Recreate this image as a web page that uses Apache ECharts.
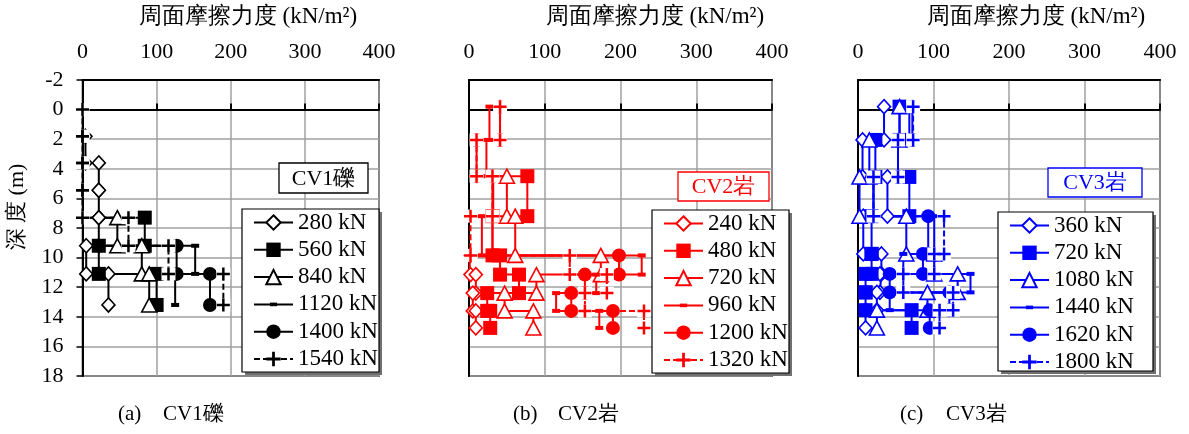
<!DOCTYPE html>
<html><head><meta charset="utf-8">
<script src="https://cdn.jsdelivr.net/npm/echarts@6/dist/echarts.min.js"></script>
<style>
html,body{margin:0;padding:0;background:#fff;width:1189px;height:434px;overflow:hidden}
.panel{position:absolute;top:0;height:434px}
</style></head><body>
<div id="p1" class="panel" style="left:0;width:400px"></div>
<div id="p2" class="panel" style="left:400px;width:400px"></div>
<div id="p3" class="panel" style="left:800px;width:389px"></div>
<script>
// x-axis ticks (kN/m2) and depth ticks (m)
const frictionTicks = [0, 100, 200, 300, 400];
const depthTicks = [-2, 0, 2, 4, 6, 8, 10, 12, 14, 16, 18];

// Segment boundaries (m) for each pile
const depthCV1 = [0, 1.8, 3.6, 5.45, 7.3, 9.2, 11.1, 13.2];
const depthCV2 = [-0.2, 2.05, 4.5, 7.2, 9.85, 11.15, 12.4, 13.6, 14.75];
const depthCV3 = [-0.2, 2.05, 4.55, 7.2, 9.75, 11.1, 12.35, 13.55, 14.75];

// CV1 (gravel): skin friction per segment for each load step
const cv1Loads = ['280 kN', '560 kN', '840 kN', '1120 kN', '1400 kN', '1540 kN'];
const cv1_280  = [0, 4, 22, 22, 22, 5, 35];
const cv1_560  = [0, 0, 0, 0, 84, 22, 100];
const cv1_840  = [0, 0, 0, 0, 47, 80, 90];
const cv1_1120 = [0, 0, 0, 0, 0, 152, 125];
const cv1_1400 = [0, 0, 0, 0, 0, 127, 172];
const cv1_1540 = [0, 0, 0, 0, 62, 116, 190];

// CV2 (rock)
const cv2Loads = ['240 kN', '480 kN', '720 kN', '960 kN', '1200 kN', '1320 kN'];
const cv2_240  = [0, 0, 0, 0, 2, 9, 5, 9];
const cv2_480  = [0, 0, 77, 31, 41, 66, 24, 28];
const cv2_720  = [0, 0, 50, 61, 174, 89, 47, 85];
const cv2_960  = [27, 23, 32, 17, 228, 168, 115, 172];
const cv2_1200 = [41, 10, 31, 31, 198, 153, 135, 190];
const cv2_1320 = [41, 10, 31, 2, 133, 182, 153, 231];

// CV3 (rock)
const cv3Loads = ['360 kN', '720 kN', '1080 kN', '1440 kN', '1620 kN', '1800 kN'];
const cv3_360  = [34.5, 6, 39, 7, 31, 29, 25, 10];
const cv3_720  = [55, 23, 68, 18, 18, 10, 10, 71];
const cv3_1080 = [55, 15, 2, 64, 101, 132, 92, 25];
const cv3_1440 = [68, 53, 20.5, 101, 60, 149, 42, null];
const cv3_1620 = [72, 53, 20.5, 93, 86, 42, 121, 95];
const cv3_1800 = [73, 53, 20.5, 114, 101, 60, 126, 108];

const SERIF = "Liberation Serif, DejaVu Serif, Noto Serif, serif";
const PLUS = 'path://M5.25,0h2.5v5.25h5.25v2.5h-5.25v5.25h-2.5v-5.25h-5.25v-2.5h5.25z';
// short bar centred in a padded box, so it stays small in the legend too
const DASH = 'path://M0,0M16,16M4,6h8v4h-8z';

// marker look for the six load steps, in legend order
const markers = [
  { symbol: 'diamond',  size: [13, 14], hollow: true },
  { symbol: 'rect',     size: 14,       hollow: false },
  { symbol: 'triangle', size: [15, 14], hollow: true },
  { symbol: DASH,       size: 16,       hollow: false },
  { symbol: 'circle',   size: 14,       hollow: false },
  { symbol: PLUS,       size: 13,       hollow: false, dashed: true }
];

// friction profile: constant value over each depth segment;
// optionally leading zero segments collapse to a start point on the axis
function stairs(depths, vals, keepZeros) {
  const pts = [];
  let first = keepZeros ? 0 : vals.findIndex(v => v != null && v !== 0);
  if (first < 0) first = 0;
  if (first > 0) pts.push([0, depths[first]]);
  for (let i = first; i < vals.length; i++) {
    const v = vals[i];
    if (v == null) continue;
    pts.push([v, depths[i]], [v, depths[i + 1]]);
  }
  return pts;
}

function buildPanel(el, cfg) {
  const chart = echarts.init(document.getElementById(el), null, { renderer: 'canvas' });
  const series = [];
  cfg.values.forEach((vals, k) => {
    const m = markers[k];
    const isPlus = k === 5;
    const pts = stairs(cfg.depths, vals, isPlus);
    const data = pts.map(p => (!isPlus && p[0] === 0) ? { value: p, symbol: 'none' } : p);
    if (isPlus) {
      // blank backing behind the cross markers
      series.push({
        type: 'line', data: pts, symbol: 'rect', symbolSize: [14, 13], clip: false,
        lineStyle: { width: 0, opacity: 0 }, itemStyle: { color: '#fff' },
        silent: true, animation: false, legendHoverLink: false
      });
    }
    series.push({
      type: 'line', name: cfg.loads[k], data, clip: false,
      symbol: m.symbol, symbolSize: m.size,
      lineStyle: { color: cfg.color, width: 2, type: m.dashed ? [6, 3] : 'solid' },
      itemStyle: m.hollow
        ? { color: '#fff', borderColor: cfg.color, borderWidth: 1.6 }
        : { color: cfg.color, borderWidth: 0 },
      emphasis: { disabled: true },
      animation: false
    });
  });

  const g = cfg.grid;
  const lb = cfg.legendBox;
  const graphic = [
    { type: 'text', x: cfg.titleX, y: 17, style: { text: '周面摩擦力度 (kN/m\u00b2)', font: '23px ' + SERIF, fill: '#000', align: 'center', verticalAlign: 'middle' } },
    // legend frame with its drop shadow
    { type: 'rect', shape: { x: lb.x + 3, y: lb.y + 3, width: lb.width, height: lb.height }, style: { fill: '#707070' }, z: 8 },
    { type: 'rect', shape: { x: lb.x, y: lb.y, width: lb.width, height: lb.height }, style: { fill: '#fff', stroke: '#000', lineWidth: 1.2 }, z: 9 },
    { type: 'rect', shape: cfg.tagBox, style: { fill: '#fff', stroke: cfg.tagStroke, lineWidth: 1.3 }, z: 20 },
    { type: 'text', x: cfg.tagBox.x + cfg.tagBox.width / 2, y: cfg.tagBox.y + cfg.tagBox.height / 2 + 1, style: { text: cfg.tag, font: '22px ' + SERIF, fill: cfg.tagText, align: 'center', verticalAlign: 'middle' }, z: 21 },
    { type: 'text', x: cfg.capX, y: 414, style: { text: cfg.capA, font: '21px ' + SERIF, fill: '#000', verticalAlign: 'middle' } },
    { type: 'text', x: cfg.capX + cfg.capGap, y: 414, style: { text: cfg.capB, font: '21px ' + SERIF, fill: '#000', verticalAlign: 'middle' } }
  ];
  if (cfg.yName) {
    graphic.push({ type: 'text', x: 17, y: 207, rotation: Math.PI / 2, style: { text: '深 度 (m)', font: '22px ' + SERIF, fill: '#000', align: 'center', verticalAlign: 'middle' } });
  }

  chart.setOption({
    animation: false,
    grid: { left: g.left, top: g.top, width: g.width, height: g.height, show: true, borderColor: '#000', borderWidth: 1.5, backgroundColor: 'transparent' },
    xAxis: [
      { type: 'value', position: 'top', min: frictionTicks[0], max: frictionTicks[frictionTicks.length - 1], interval: frictionTicks[1] - frictionTicks[0],
        axisLine: { show: true, onZero: false, lineStyle: { color: '#000', width: 2 } },
        axisTick: { show: false },
        axisLabel: { margin: 17, color: '#000', fontSize: 22, fontFamily: SERIF },
        splitLine: { show: true, lineStyle: { color: '#a0a0a0', width: 1.5 } } },
      { type: 'value', position: 'bottom', min: frictionTicks[0], max: frictionTicks[frictionTicks.length - 1], interval: frictionTicks[1] - frictionTicks[0],
        axisLine: { show: true, onZero: true, lineStyle: { color: '#000', width: 2 } },
        axisTick: { show: true, inside: true, length: 6, lineStyle: { color: '#000', width: 2 } },
        axisLabel: { show: false }, splitLine: { show: false } }
    ],
    yAxis: { type: 'value', inverse: true, min: depthTicks[0], max: depthTicks[depthTicks.length - 1], interval: depthTicks[1] - depthTicks[0],
      axisLine: { show: true, onZero: false, lineStyle: { color: '#000', width: 2 } },
      axisTick: { show: cfg.yName, length: 6, lineStyle: { color: '#000', width: 1.5 } },
      axisLabel: { show: cfg.yName, margin: 19, color: '#000', fontSize: 22, fontFamily: SERIF },
      splitLine: { show: true, lineStyle: { color: '#a0a0a0', width: 1.5 } } },
    legend: {
      orient: 'vertical', left: lb.x + 11, top: lb.y + 2, data: cfg.loads,
      itemWidth: 39, itemHeight: 18, itemGap: 4.3, padding: 0,
      textStyle: { fontSize: 23, color: '#000', fontFamily: SERIF, lineHeight: 23 },
      selectedMode: false, z: 10
    },
    graphic,
    series
  });
}

buildPanel('p1', {
  loads: cv1Loads, depths: depthCV1, color: '#000',
  values: [cv1_280, cv1_560, cv1_840, cv1_1120, cv1_1400, cv1_1540],
  grid: { left: 82.5, top: 80, width: 296.5, height: 296 },
  titleX: 248, yName: true,
  legendBox: { x: 242, y: 209, width: 137, height: 163 },
  tag: 'CV1礫', tagBox: { x: 279, y: 163, width: 89, height: 30 }, tagStroke: '#000', tagText: '#000',
  capX: 118, capGap: 45, capA: '(a)', capB: 'CV1礫'
});
buildPanel('p2', {
  loads: cv2Loads, depths: depthCV2, color: '#ff0000',
  values: [cv2_240, cv2_480, cv2_720, cv2_960, cv2_1200, cv2_1320],
  grid: { left: 69, top: 80, width: 303, height: 296 },
  titleX: 255, yName: false,
  legendBox: { x: 252, y: 210, width: 137, height: 163 },
  tag: 'CV2岩', tagBox: { x: 278, y: 172, width: 91, height: 29 }, tagStroke: '#ff0000', tagText: '#ff0000',
  capX: 113, capGap: 45, capA: '(b)', capB: 'CV2岩'
});
buildPanel('p3', {
  loads: cv3Loads, depths: depthCV3, color: '#0000ff',
  values: [cv3_360, cv3_720, cv3_1080, cv3_1440, cv3_1620, cv3_1800],
  grid: { left: 58, top: 80, width: 302, height: 296 },
  titleX: 236, yName: false,
  legendBox: { x: 198, y: 212, width: 155, height: 159 },
  tag: 'CV3岩', tagBox: { x: 248, y: 168, width: 94, height: 29 }, tagStroke: '#0000ff', tagText: '#0000ff',
  capX: 100, capGap: 46, capA: '(c)', capB: 'CV3岩'
});
</script>
</body></html>
